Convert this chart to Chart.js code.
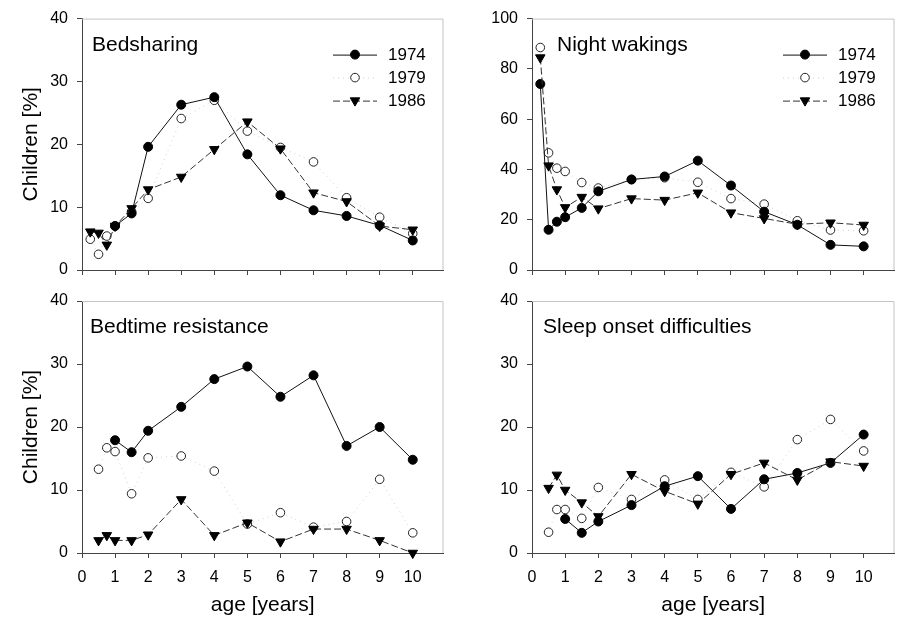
<!DOCTYPE html>
<html>
<head>
<meta charset="utf-8">
<script src="https://cdn.jsdelivr.net/npm/chart.js@4.4.1/dist/chart.umd.min.js"></script>
<style>
  body { margin: 0; background: #fff; }
  #wrap { position: relative; width: 901px; height: 618px; overflow: hidden; }
  canvas { position: absolute; }
</style>
</head>
<body>
<div id="wrap">
  <canvas id="bedsharing" width="450" height="290" style="left:0;top:0"></canvas>
  <canvas id="wakings" width="451" height="290" style="left:450px;top:0"></canvas>
  <canvas id="resistance" width="450" height="338" style="left:0;top:280px"></canvas>
  <canvas id="onset" width="451" height="338" style="left:450px;top:280px"></canvas>
</div>
<script>
// age in years
const agesFull = [0.25, 0.5, 0.75, 1, 1.5, 2, 3, 4, 5, 6, 7, 8, 9, 10];
const agesHalf = [0.5, 0.75, 1, 1.5, 2, 3, 4, 5, 6, 7, 8, 9, 10];
const agesOne = [1, 1.5, 2, 3, 4, 5, 6, 7, 8, 9, 10];
const xTicks = [0, 1, 2, 3, 4, 5, 6, 7, 8, 9, 10];
const years = ['1974', '1979', '1986'];

// Bedsharing (%)
const bed1974 = [7.0, 9.0, 19.6, 26.3, 27.5, 18.4, 11.9, 9.5, 8.6, 7.1, 4.7];
const bed1979 = [4.9, 2.5, 5.4, 7.0, 9.3, 11.4, 24.1, 27.0, 22.1, 19.5, 17.2, 11.5, 8.4, 5.8];
const bed1986 = [6.1, 5.9, 4.0, 7.0, 9.8, 12.8, 14.8, 19.2, 23.6, 19.3, 12.3, 10.9, 7.0, 6.4];

// Night wakings (%)
const wake1974 = [74, 16, 19.2, 21, 24.7, 31.3, 36, 37.2, 43.5, 33.6, 23.2, 18, 10, 9.4];
const wake1979 = [88.5, 46.6, 40.5, 39.2, 34.8, 32.6, 36, 36.7, 34.9, 28.4, 26.2, 19.6, 15.9, 15.6];
const wake1986 = [84.5, 41.5, 32, 24.9, 29, 24.4, 28.4, 27.8, 30.7, 22.8, 20.5, 18.2, 18.8, 17.9];

// Bedtime resistance (%)
const resist1974 = [17.9, 16.0, 19.4, 23.2, 27.6, 29.6, 24.8, 28.2, 17.0, 20.0, 14.8];
const resist1979 = [13.3, 16.7, 16.1, 9.4, 15.1, 15.4, 13.0, 4.6, 6.4, 4.1, 5.0, 11.7, 3.2];
const resist1986 = [2.0, 2.8, 2.0, 2.0, 2.9, 8.5, 2.8, 4.8, 1.8, 3.8, 3.8, 2.0, 0];

// Sleep onset difficulties (%)
const onset1974 = [5.4, 3.2, 5.0, 7.6, 10.6, 12.2, 7.0, 11.7, 12.7, 14.3, 18.8];
const onset1979 = [3.3, 6.9, 6.9, 5.5, 10.4, 8.5, 11.6, 8.5, 12.8, 10.5, 18.0, 21.2, 16.2];
const onset1986 = [10.3, 12.4, 10.0, 8.0, 5.8, 12.5, 9.8, 7.8, 12.5, 14.3, 11.6, 14.5, 13.8];

const FONT = 'Liberation Sans, Arial, sans-serif';

const styles = [
  { borderColor: '#111', borderDash: [], pointStyle: 'circle', pointRadius: 4.5,
    pointBackgroundColor: '#000', pointBorderColor: '#000', order: 1 },
  { borderColor: '#cfcfcf', borderDash: [1, 4], pointStyle: 'circle', pointRadius: 4.3,
    pointBackgroundColor: '#fff', pointBorderColor: '#222', order: 2 },
  { borderColor: '#333', borderDash: [7, 3], pointStyle: 'triangle', pointRadius: 5.5, pointRotation: 180,
    pointBackgroundColor: '#000', pointBorderColor: '#000', order: 0 }
];

function toPoints(xs, ys) {
  return xs.map((x, i) => ({ x, y: ys[i] }));
}

function drawMarker(ctx, st, x, y) {
  ctx.save();
  ctx.fillStyle = st.pointBackgroundColor;
  ctx.strokeStyle = st.pointBorderColor;
  ctx.lineWidth = 1;
  ctx.setLineDash([]);
  ctx.beginPath();
  if (st.pointStyle === 'triangle') {
    const r = st.pointRadius;
    ctx.moveTo(x - r * 0.866, y - r * 0.5);
    ctx.lineTo(x + r * 0.866, y - r * 0.5);
    ctx.lineTo(x, y + r);
    ctx.closePath();
  } else {
    ctx.arc(x, y, st.pointRadius, 0, Math.PI * 2);
  }
  ctx.fill();
  ctx.stroke();
  ctx.restore();
}

const panelDecor = {
  id: 'panelDecor',
  beforeDatasetsDraw(chart, args, opts) {
    const { ctx, chartArea: a } = chart;
    ctx.save();
    ctx.strokeStyle = '#c4c4c4';
    ctx.lineWidth = 1;
    ctx.beginPath();
    ctx.moveTo(a.left, a.top + 0.5);
    ctx.lineTo(a.right - 0.5, a.top + 0.5);
    ctx.lineTo(a.right - 0.5, a.bottom);
    ctx.stroke();
    ctx.restore();
  },
  afterDatasetsDraw(chart, args, opts) {
    const { ctx, chartArea: a } = chart;
    ctx.save();
    ctx.fillStyle = '#000';
    ctx.font = '21px ' + FONT;
    ctx.textBaseline = 'alphabetic';
    ctx.fillText(opts.title, a.left + opts.titleDx, a.top + 32);
    if (opts.legend) {
      const rows = [36, 59, 82];
      const lx = a.left + 251;
      ctx.font = '17px ' + FONT;
      ctx.textBaseline = 'middle';
      years.forEach((yr, i) => {
        const st = styles[i];
        const y = a.top + rows[i];
        ctx.save();
        ctx.strokeStyle = st.borderColor;
        ctx.lineWidth = 1;
        ctx.setLineDash(st.borderDash);
        ctx.beginPath();
        ctx.moveTo(lx, y + 0.5);
        ctx.lineTo(lx + 44, y + 0.5);
        ctx.stroke();
        ctx.restore();
        drawMarker(ctx, st, lx + 22, y);
        ctx.fillStyle = '#000';
        ctx.fillText(yr, lx + 55, y + 1);
      });
    }
    ctx.restore();
  }
};

function makePanel(id, cfg) {
  const datasets = cfg.series.map((s, i) => Object.assign({
    label: years[i],
    data: toPoints(s.x, s.y),
    borderWidth: 1,
    pointBorderWidth: 1,
    tension: 0,
    fill: false,
    clip: false
  }, styles[i]));

  return new Chart(document.getElementById(id), {
    type: 'line',
    data: { datasets },
    plugins: [panelDecor],
    options: {
      responsive: false,
      animation: false,
      events: [],
      layout: { padding: { left: 0, right: 1, top: cfg.padTop, bottom: 0 } },
      plugins: {
        legend: { display: false },
        tooltip: { enabled: false },
        panelDecor: { title: cfg.title, titleDx: cfg.titleDx, legend: cfg.legend }
      },
      scales: {
        x: {
          type: 'linear',
          min: 0,
          max: 10.93,
          afterBuildTicks: (scale) => {
            scale.ticks = xTicks.map((v) => ({ value: v }));
          },
          afterFit: (scale) => { scale.height = cfg.xHeight; },
          ticks: {
            stepSize: 1,
            padding: 10,
            color: '#000',
            font: { family: FONT, size: 16 },
            maxRotation: 0,
            autoSkip: false,
            callback: (v) => (cfg.xLabels ? v : '')
          },
          grid: { drawOnChartArea: false, drawTicks: true, tickLength: 5, color: '#444' },
          border: { display: true, color: '#444' },
          title: {
            display: cfg.xLabels,
            text: 'age [years]',
            color: '#000',
            font: { family: FONT, size: 21 },
            padding: { top: 0, bottom: 0 }
          }
        },
        y: {
          min: 0,
          max: cfg.yMax,
          afterFit: (scale) => { scale.width = 82; },
          ticks: {
            stepSize: cfg.yStep,
            padding: 9,
            color: '#000',
            font: { family: FONT, size: 16 }
          },
          grid: { drawOnChartArea: false, drawTicks: true, tickLength: 5, color: '#444' },
          border: { display: true, color: '#444' },
          title: {
            display: cfg.yTitle,
            text: 'Children [%]',
            color: '#000',
            font: { family: FONT, size: 21 },
            padding: { top: 19, bottom: 19 }
          }
        }
      }
    }
  });
}

makePanel('bedsharing', {
  title: 'Bedsharing', titleDx: 10, legend: true, yMax: 40, yStep: 10, yTitle: true,
  padTop: 16, xHeight: 20, xLabels: false,
  series: [{ x: agesOne, y: bed1974 }, { x: agesFull, y: bed1979 }, { x: agesFull, y: bed1986 }]
});

makePanel('wakings', {
  title: 'Night wakings', titleDx: 25, legend: true, yMax: 100, yStep: 20, yTitle: false,
  padTop: 16, xHeight: 20, xLabels: false,
  series: [{ x: agesFull, y: wake1974 }, { x: agesFull, y: wake1979 }, { x: agesFull, y: wake1986 }]
});

makePanel('resistance', {
  title: 'Bedtime resistance', titleDx: 8, legend: false, yMax: 40, yStep: 10, yTitle: true,
  padTop: 21, xHeight: 65, xLabels: true,
  series: [{ x: agesOne, y: resist1974 }, { x: agesHalf, y: resist1979 }, { x: agesHalf, y: resist1986 }]
});

makePanel('onset', {
  title: 'Sleep onset difficulties', titleDx: 11, legend: false, yMax: 40, yStep: 10, yTitle: false,
  padTop: 21, xHeight: 65, xLabels: true,
  series: [{ x: agesOne, y: onset1974 }, { x: agesHalf, y: onset1979 }, { x: agesHalf, y: onset1986 }]
});
</script>
</body>
</html>
